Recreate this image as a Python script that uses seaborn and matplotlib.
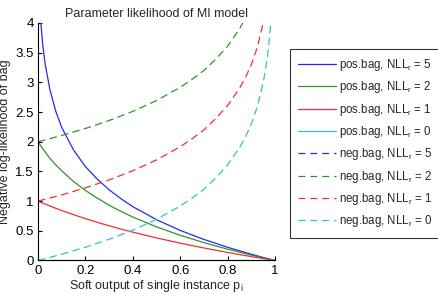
import pandas as pd
import seaborn as sns
import matplotlib.pyplot as plt
from matplotlib.lines import Line2D

# soft output p_i, sampled along the x axis
p_pos = [0, 0.01, 0.02, 0.03, 0.05, 0.075, 0.1, 0.15, 0.2, 0.25, 0.3, 0.35,
         0.4, 0.5, 0.6, 0.7, 0.8, 0.9, 0.95, 1.0]
p_neg = [0, 0.1, 0.2, 0.3, 0.4, 0.5, 0.6, 0.65, 0.7, 0.75, 0.8, 0.85, 0.875,
         0.9, 0.925, 0.95, 0.96, 0.97, 0.98, 0.99]

# positive bags
pos_5 = [5.0, 4.09, 3.63, 3.31, 2.88, 2.51, 2.24, 1.86, 1.58, 1.37, 1.19, 1.04,
         0.906, 0.687, 0.506, 0.354, 0.222, 0.105, 0.051, 0.0]
pos_2 = [2.0, 1.94, 1.88, 1.83, 1.72, 1.61, 1.51, 1.33, 1.18, 1.05, 0.93, 0.826,
         0.731, 0.566, 0.424, 0.300, 0.190, 0.090, 0.044, 0.0]
pos_1 = [1.0, 0.983, 0.966, 0.95, 0.918, 0.879, 0.841, 0.771, 0.705, 0.643, 0.584,
         0.529, 0.477, 0.380, 0.292, 0.210, 0.135, 0.065, 0.032, 0.0]
pos_0 = [0.0] * 20

# negative bags
neg_0 = [0.0, 0.105, 0.223, 0.357, 0.511, 0.693, 0.916, 1.05, 1.20, 1.39, 1.61,
         1.90, 2.08, 2.30, 2.59, 3.00, 3.22, 3.51, 3.91, 4.61]
neg_1 = [1.0, 1.105, 1.223, 1.357, 1.511, 1.693, 1.916, 2.05, 2.20, 2.39, 2.61,
         2.90, 3.08, 3.30, 3.59, 4.00, 4.22, 4.51, 4.91, 5.61]
neg_2 = [2.0, 2.105, 2.223, 2.357, 2.511, 2.693, 2.916, 3.05, 3.20, 3.39, 3.61,
         3.90, 4.08, 4.30, 4.59, 5.00, 5.22, 5.51, 5.91, 6.61]
neg_5 = [5.0, 5.105, 5.223, 5.357, 5.511, 5.693, 5.916, 6.05, 6.20, 6.39, 6.61,
         6.90, 7.08, 7.30, 7.59, 8.00, 8.22, 8.51, 8.91, 9.61]

nll_r = [5, 2, 1, 0]
colors = ['#2828f0', '#2a962a', '#f03030', '#30c4c4']

sns.set_style('ticks')
plt.rcParams['font.family'] = ['Liberation Sans', 'DejaVu Sans']
plt.rcParams['mathtext.default'] = 'regular'
plt.rcParams['font.size'] = 9

fig = plt.figure(figsize=(4.39, 2.94), dpi=100)
ax = fig.add_axes([0.0866, 0.114, 0.540, 0.808])

handles = []
labels = []
for vals, r, c in zip([pos_5, pos_2, pos_1, pos_0], nll_r, colors):
    sns.lineplot(x=p_pos, y=vals, ax=ax, color=c, lw=0.9, clip_on=(r != 0))
    handles.append(Line2D([], [], color=c, lw=0.9))
    labels.append('pos.bag, NLL$_r$ = %d' % r)
for vals, r, c in zip([neg_5, neg_2, neg_1, neg_0], nll_r, colors):
    sns.lineplot(x=p_neg, y=vals, ax=ax, color=c, lw=0.9)
    ax.lines[-1].set_dashes((6, 3.5))
    handles.append(Line2D([], [], color=c, lw=0.9, dashes=(5.5, 4)))
    labels.append('neg.bag, NLL$_r$ = %d' % r)

ax.set_xlim(0, 1)
ax.set_ylim(0, 4)
ax.set_xticks([0, 0.2, 0.4, 0.6, 0.8, 1])
ax.set_xticklabels(['0', '0.2', '0.4', '0.6', '0.8', '1'])
ax.set_yticks([0, 0.5, 1, 1.5, 2, 2.5, 3, 3.5, 4])
ax.set_yticklabels(['0', '0.5', '1', '1.5', '2', '2.5', '3', '3.5', '4'])
ax.tick_params(direction='in', length=3, width=0.8, colors='black', labelsize=9.5, pad=3)
for s in ['top', 'right']:
    ax.spines[s].set_visible(False)
for s in ['left', 'bottom']:
    ax.spines[s].set_color('black')
    ax.spines[s].set_linewidth(0.8)

ax.set_title('Parameter likelihood of MI model', fontsize=9, pad=4)
ax.set_xlabel('Soft output of single instance p$_i$', fontsize=9, labelpad=1)
ax.set_ylabel('Negative log-likelihood of bag', fontsize=9, labelpad=3)

leg = ax.legend(handles, labels, loc='upper left', bbox_to_anchor=(290 / 439, 1 - 49 / 294),
                bbox_transform=fig.transFigure, borderaxespad=0, fancybox=False,
                frameon=True, edgecolor='black', fontsize=8.3, handlelength=3.3,
                handletextpad=0.26, labelspacing=0.55, borderpad=0.7)
leg.get_frame().set_linewidth(0.8)

fig.savefig('out.png', dpi=100)
